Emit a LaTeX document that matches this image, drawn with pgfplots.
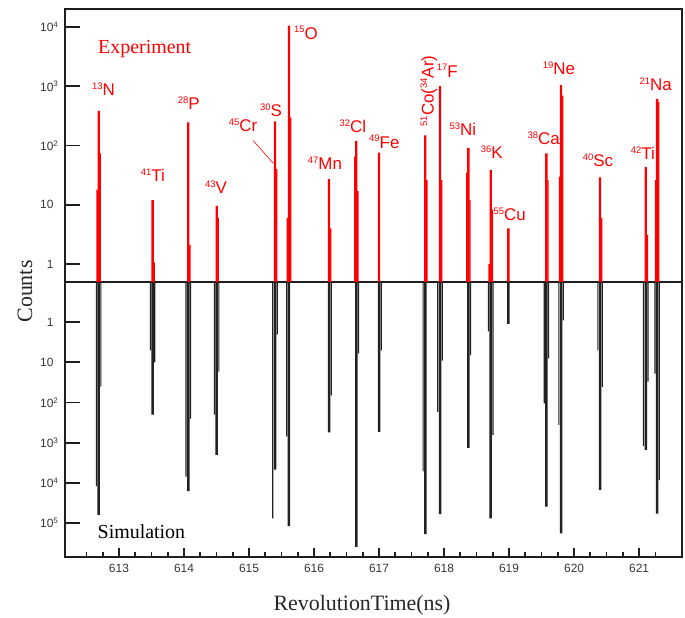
\documentclass[border=0pt]{standalone}
\usepackage{fontspec}
\setmainfont{Liberation Serif}
\setsansfont{Liberation Sans}
\usepackage{pgfplots}
\usepackage{pgfplotstable}
\pgfplotsset{compat=1.18}

\definecolor{expred}{RGB}{255,0,0}
\definecolor{simblk}{RGB}{34,34,34}
\definecolor{framec}{RGB}{30,30,30}
\definecolor{tickc}{RGB}{55,55,55}

% isotope label: mass number raised before the element symbol
\newcommand\iso[2]{\raisebox{6.3bp}{\fontsize{9.5}{9.5}\selectfont #1}#2}

% measured spectrum: main bin and its two neighbouring bins
\pgfplotstableread{
t        peak   left  right
612.688  385    18    74
613.518  12     nan   1.07
614.066  245    nan   2.1
614.503  9.6    nan   6
615.400  256    nan   40
615.615  10500  6     295
616.231  27     nan   4
616.651  120    65    17
617.000  76     nan   nan
617.712  148    nan   26
617.938  1000   nan   26
618.374  91     35    12
618.718  39     1.0   8.3
618.989  4.0    nan   nan
619.574  74     nan   26
619.800  1040   30    690
620.400  29     nan   6
621.103  43     nan   3.1
621.277  610    26    540
}\expdata

% simulated spectrum
\pgfplotstableread{
t        peak    left   right
612.688  63000   12000  40
613.518  200     5      10
614.066  16000   7000   250
614.503  2000    200    17
615.400  4700    76000  2
615.615  120000  700    nan
616.231  550     nan    66
616.651  390000  nan    6
617.000  540     nan    5
617.712  190000  5200   nan
617.938  60000   170    9
618.374  1350    nan    6.6
618.718  76000   1.7    650
618.989  1.1     nan    nan
619.574  39000   105    8
619.800  180000  360    0.9
620.400  15000   5      41
621.103  1500    1200   30
621.277  58000   19     8500
}\simdata

\pgfplotsset{
  countscale/.style={
    at={(65bp,#1)}, anchor=south west, width=617bp, scale only axis,
    xmin=612.17, xmax=621.66,
    axis x line=none, axis y line*=left,
    axis line style={line width=1.5bp, framec, -},
    tick style={line width=1.7bp, framec},
    tick align=inside, major tick length=15bp,
    yticklabel style={font=\sffamily\fontsize{12}{12}\selectfont, text=tickc, anchor=east, xshift=-8bp},
  },
}

\begin{document}
\begin{tikzpicture}
\useasboundingbox (0bp,0bp) rectangle (685bp,618bp);

% lower panel: simulation, counts increasing downwards
\begin{axis}[
  at={(65bp,61bp)}, anchor=south west, width=617bp, height=275bp, scale only axis,
  xmin=612.17, xmax=621.66,
  ymode=log, log origin=infty,
  ymin=0.1, ymax=7e5, y dir=reverse,
  axis line style={line width=1.5bp, framec},
  xtick=\empty, ytick=\empty,
]
\addplot[ybar, bar width=1.2bp, bar shift=-2.2bp, fill=simblk, draw=none] table[x=t, y=left] {\simdata};
\addplot[ybar, bar width=1.2bp, bar shift=2.2bp, fill=simblk, draw=none] table[x=t, y=right] {\simdata};
\addplot[ybar, bar width=2.5bp, bar shift=0bp, fill=simblk, draw=none] table[x=t, y=peak] {\simdata};
\end{axis}

% count scale of the lower panel (decades from 0.1 to 7e5)
\begin{axis}[countscale=61bp, height=275bp,
  ymin=-1, ymax=5.8451, y dir=reverse,
  ytick={0,1,2,3,4,5},
  yticklabels={1,10,10\rlap{\textsuperscript{2}},10\rlap{\textsuperscript{3}},10\rlap{\textsuperscript{4}},10\rlap{\textsuperscript{5}}},
]
\end{axis}

% time axis ticks along the bottom edge
\begin{axis}[
  at={(65bp,61bp)}, anchor=south west, width=617bp, height=275bp, scale only axis,
  xmin=612.17, xmax=621.66, ymin=0, ymax=1,
  axis y line=none, axis x line*=bottom,
  axis line style={line width=1.5bp, framec, -},
  tick style={line width=1.7bp, framec},
  tick align=inside,
  major tick length=9bp, minor tick length=5bp,
  xtick={613,614,615,616,617,618,619,620,621},
  xticklabels={613,614,615,616,617,618,619,620,621},
  minor xtick={612.5,612.75,613.25,613.5,613.75,614.25,614.5,614.75,615.25,615.5,615.75,616.25,616.5,616.75,617.25,617.5,617.75,618.25,618.5,618.75,619.25,619.5,619.75,620.25,620.5,620.75,621.25},
  xticklabel style={font=\sffamily\fontsize{12}{12}\selectfont, text=tickc, yshift=-4bp},
]
\end{axis}

% upper panel: experiment
\begin{axis}[
  at={(65bp,336bp)}, anchor=south west, width=617bp, height=273bp, scale only axis,
  xmin=612.17, xmax=621.66,
  ymode=log, log origin=infty,
  ymin=0.5, ymax=2e4,
  axis line style={line width=1.5bp, framec},
  xtick=\empty, ytick=\empty,
]
\addplot[ybar, bar width=1.4bp, bar shift=-1.6bp, fill=expred, draw=none] table[x=t, y=left] {\expdata};
\addplot[ybar, bar width=1.4bp, bar shift=1.6bp, fill=expred, draw=none] table[x=t, y=right] {\expdata};
\addplot[ybar, bar width=2.3bp, bar shift=0bp, fill=expred, draw=none] table[x=t, y=peak] {\expdata};
\end{axis}

% count scale of the upper panel (decades from 0.5 to 2e4)
\begin{axis}[countscale=336bp, height=273bp,
  ymin=-0.30103, ymax=4.30103,
  ytick={0,1,2,3,4},
  yticklabels={1,10,10\rlap{\textsuperscript{2}},10\rlap{\textsuperscript{3}},10\rlap{\textsuperscript{4}}},
]
\end{axis}

% inward decade ticks on the left edge of both panels
\foreach \ty in {353.9,413.2,472.5,531.8,591.1, 295.8,255.7,215.5,175.3,135.1,95.0}{
  \draw[line width=1.7bp, framec] (65bp,\ty bp) -- (80bp,\ty bp);
}

% panel titles and axis titles
\node[anchor=base west, inner sep=0, text=expred, font=\fontsize{20}{20}\selectfont] at (98bp,564.5bp) {Experiment};
\node[anchor=base west, inner sep=0, font=\fontsize{20}{20}\selectfont] at (97.5bp,79.5bp) {Simulation};
\node[anchor=base, inner sep=0, rotate=90, text=black!85, font=\fontsize{22}{22}\selectfont] at (32bp,326.5bp) {Counts};
\node[anchor=base, inner sep=0, text=black!85, font=\fontsize{22}{22}\selectfont] at (362bp,7.5bp) {RevolutionTime(ns)};

% isotope labels
\begin{scope}[every node/.style={anchor=base west, inner sep=0, text=expred, font=\sffamily\fontsize{17}{17}\selectfont}]
\node at (92bp,522.3bp) {\iso{13}{N}};
\node at (140.7bp,436bp) {\iso{41}{Ti}};
\node at (177.7bp,508bp) {\iso{28}{P}};
\node at (205bp,424bp) {\iso{43}{V}};
\node at (228.7bp,486.3bp) {\iso{45}{Cr}};
\node at (260bp,501.3bp) {\iso{30}{S}};
\node at (294bp,578.7bp) {\iso{15}{O}};
\node at (307.7bp,448bp) {\iso{47}{Mn}};
\node at (339.3bp,485.3bp) {\iso{32}{Cl}};
\node at (369bp,469.7bp) {\iso{49}{Fe}};
\node[rotate=90] at (433.5bp,491.3bp) {\iso{51}{Co(\iso{34}{Ar})}};
\node at (436.7bp,540.7bp) {\iso{17}{F}};
\node at (449.3bp,482.3bp) {\iso{53}{Ni}};
\node at (480.7bp,459bp) {\iso{36}{K}};
\node at (493.3bp,397bp) {\iso{55}{Cu}};
\node at (527.3bp,473bp) {\iso{38}{Ca}};
\node at (542.7bp,543bp) {\iso{19}{Ne}};
\node at (582.7bp,451.3bp) {\iso{40}{Sc}};
\node at (630.7bp,458bp) {\iso{42}{Ti}};
\node at (639.3bp,527.3bp) {\iso{21}{Na}};
\end{scope}
\draw[expred, line width=0.6bp] (253.3bp,477.3bp) -- (273.3bp,454.7bp);
\end{tikzpicture}
\end{document}
